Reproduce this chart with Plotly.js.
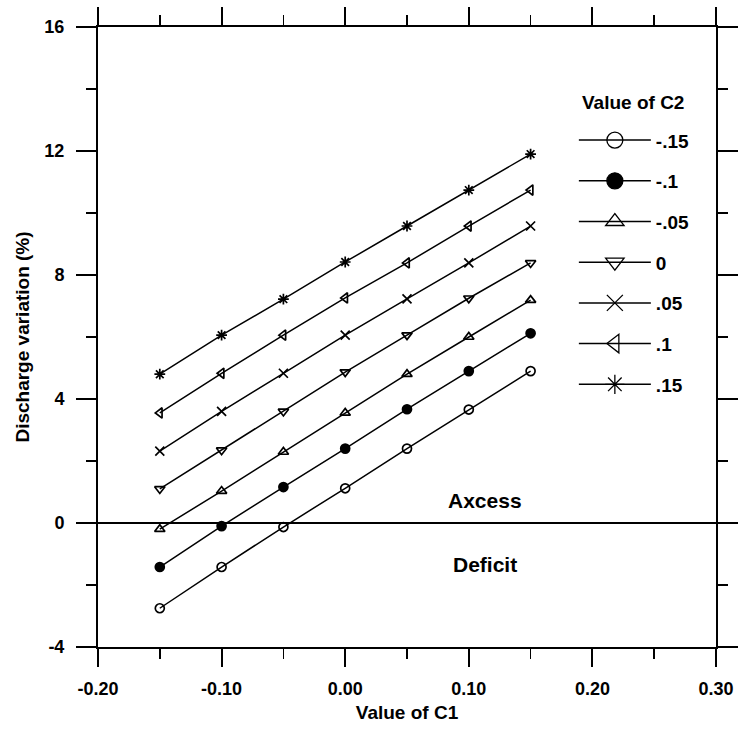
<!DOCTYPE html>
<html>
<head>
<meta charset="utf-8">
<script src="https://cdn.plot.ly/plotly-3.0.1.min.js"></script>
<style>html,body{margin:0;padding:0;background:#fff;}#chart{width:738px;height:729px;}</style>
</head>
<body>
<div id="chart"></div>
<script>
// Data
const c1Values = [-0.15, -0.10, -0.05, 0.00, 0.05, 0.10, 0.15];
const c2Labels = ['-.15', '-.1', '-.05', '0', '.05', '.1', '.15'];
const serC2m15 = [-2.75, -1.42, -0.13, 1.12, 2.40, 3.66, 4.90];
const serC2m10 = [-1.42, -0.10, 1.16, 2.40, 3.67, 4.90, 6.12];
const serC2m05 = [-0.20, 1.03, 2.29, 3.55, 4.80, 6.00, 7.19];
const serC2z00 = [1.10, 2.35, 3.60, 4.87, 6.06, 7.25, 8.39];
const serC2p05 = [2.32, 3.60, 4.83, 6.06, 7.23, 8.39, 9.58];
const serC2p10 = [3.55, 4.83, 6.06, 7.26, 8.39, 9.58, 10.74];
const serC2p15 = [4.80, 6.06, 7.22, 8.42, 9.58, 10.74, 11.90];
const seriesList = [serC2m15, serC2m10, serC2m05, serC2z00, serC2p05, serC2p10, serC2p15];
const symbols = ['circle-open', 'circle', 'triangle-up-open', 'triangle-down-open', 'x-thin-open', 'triangle-left-open', 'asterisk-open'];

const xTickVals = [-0.20, -0.10, 0.00, 0.10, 0.20, 0.30];
const xTickText = ['-0.20', '-0.10', '0.00', '0.10', '0.20', '0.30'];
const xMinorVals = [-0.15, -0.05, 0.05, 0.15, 0.25];
const yTickVals = [-4, 0, 4, 8, 12, 16];
const yTickText = ['-4', '0', '4', '8', '12', '16'];
const yMinorVals = [-2, 2, 6, 10, 14];

const FONT = 'Liberation Sans, Arial, sans-serif';
const bold = (s) => ({family: FONT, size: s, weight: 'bold', color: '#000'});

const traces = [];
seriesList.forEach((ys, i) => {
  traces.push({
    type: 'scatter', mode: 'lines+markers',
    x: c1Values, y: ys, showlegend: false,
    line: {color: '#000', width: 1.5},
    marker: {symbol: symbols[i], size: 9, color: '#000', line: {color: '#000', width: 1.7}}
  });
});
// legend key entries (larger symbols, as in the reference key)
seriesList.forEach((ys, i) => {
  traces.push({
    type: 'scatter', mode: 'lines+markers',
    x: [null], y: [null], name: c2Labels[i], legendgroup: 'g' + i, showlegend: true,
    line: {color: '#000', width: 1.5},
    marker: {symbol: symbols[i], size: 16, color: '#000', line: {color: '#000', width: 1.3}}
  });
});

const layout = {
  width: 738, height: 729,
  margin: {l: 98, r: 22, t: 27, b: 82},
  paper_bgcolor: '#fff', plot_bgcolor: '#fff',
  font: {family: FONT, color: '#000'},
  showlegend: true,
  legend: {
    x: 0.77, y: 0.848, xanchor: 'left', yanchor: 'top',
    bgcolor: 'rgba(0,0,0,0)', borderwidth: 0,
    font: bold(19),
    tracegroupgap: 13, itemsizing: 'trace', itemwidth: 72
  },
  xaxis: {
    range: [-0.2, 0.3], tickmode: 'array', tickvals: xTickVals, ticktext: xTickText,
    ticks: 'outside', ticklen: 18, tickwidth: 2, tickcolor: '#000',
    showline: true, linewidth: 2, linecolor: '#000', mirror: 'allticks',
    showgrid: false, zeroline: false, ticklabelstandoff: 6,
    minor: {tickmode: 'array', tickvals: xMinorVals, ticks: 'outside', ticklen: 10, tickwidth: 1.5, tickcolor: '#000', showgrid: false},
    tickfont: bold(18),
    title: {text: 'Value of C1', font: bold(19), standoff: 8}
  },
  yaxis: {
    range: [-4, 16], tickmode: 'array', tickvals: yTickVals, ticktext: yTickText,
    ticks: 'outside', ticklen: 20, tickwidth: 2, tickcolor: '#000',
    showline: true, linewidth: 2, linecolor: '#000', mirror: 'allticks',
    showgrid: false, zeroline: true, zerolinewidth: 2, zerolinecolor: '#000', ticklabelstandoff: 8,
    minor: {tickmode: 'array', tickvals: yMinorVals, ticks: 'outside', ticklen: 10, tickwidth: 1.5, tickcolor: '#000', showgrid: false},
    tickfont: bold(18),
    title: {text: 'Discharge variation (%)', font: bold(19), standoff: 10}
  },
  annotations: [
    {x: 0.866, y: 0.879, xref: 'paper', yref: 'paper', xanchor: 'center', yanchor: 'middle',
     text: 'Value of C2', showarrow: false, font: bold(19)},
    {x: 0.113, y: 0.72, xref: 'x', yref: 'y', text: 'Axcess', showarrow: false, font: bold(21)},
    {x: 0.113, y: -1.35, xref: 'x', yref: 'y', text: 'Deficit', showarrow: false, font: bold(21)}
  ]
};

Plotly.newPlot('chart', traces, layout, {displayModeBar: false, staticPlot: true});
</script>
</body>
</html>
